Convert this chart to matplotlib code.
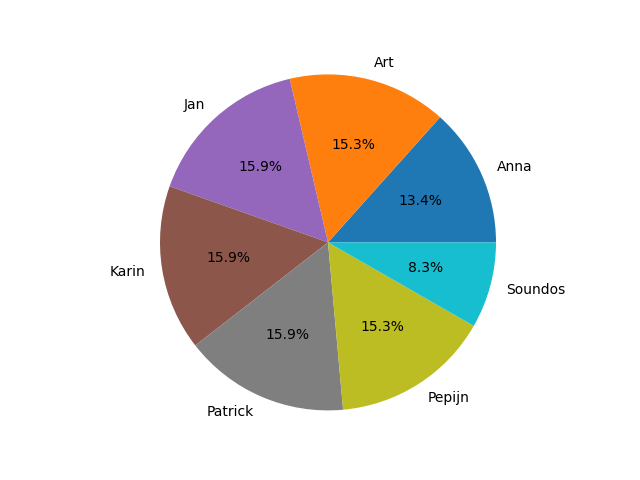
import matplotlib
matplotlib.use('Agg')
import matplotlib.pyplot as plt

names = ['Anna', 'Art', 'Jan', 'Karin', 'Patrick', 'Pepijn', 'Soundos']
counts = [21, 24, 25, 25, 25, 24, 13]
colors = ['tab:blue', 'tab:orange', 'tab:purple', 'tab:brown',
          'tab:gray', 'tab:olive', 'tab:cyan']

plt.figure(figsize=(6.4, 4.8), dpi=100)
plt.pie(counts, labels=names, colors=colors, autopct='%1.1f%%')
plt.axis('equal')
plt.savefig('out.png')
